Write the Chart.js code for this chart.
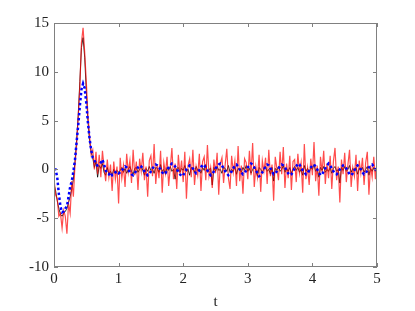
<!DOCTYPE html>
<html>
<head>
<meta charset="utf-8">
<script src="https://cdn.jsdelivr.net/npm/chart.js@4.4.1/dist/chart.umd.min.js"></script>
<style>
  html, body { margin: 0; padding: 0; background: #fff; }
  #wrap { width: 415px; height: 311px; }
</style>
</head>
<body>
<div id="wrap"><canvas id="chart" width="415" height="311"></canvas></div>
<script>
// sample step in t
const dt = 0.025;

const xTicks = [0, 1, 2, 3, 4, 5];
const yTicks = [-10, -5, 0, 5, 10, 15];

// noisy measured signal (red)
const redValues = [
  -1.0, -2.6, -3.0, -4.8, -4.5, -6.0, -4.2, -4.8, -6.6, -3.5,
  -4.5, -1.2, -2.8, 0.5, 2.5, 5.5, 8.5, 13.0, 14.5, 12.0,
  9.0, 5.5, 3.5, 1.5, 2.0, 0.0, 1.8, -0.5, 1.5, -0.8,
  1.9, 0.2, -1.2, 1.0, -0.8, 0.5, -2.2, 0.8, -1.0, 0.3,
  -3.5, 1.2, -0.9, 0.4, -1.8, 1.6, -0.3, 0.9, -1.4, 2.0,
  -0.6, 0.8, -2.1, 1.1, -0.2, 1.7, -1.1, 0.3, -2.8, 0.9,
  1.4, -0.7, 2.6, -1.5, 0.5, -0.9, 1.9, -2.4, 0.7, -0.4,
  1.3, -1.7, 0.2, 2.2, -1.0, 0.6, -2.0, 1.5, -0.5, 0.9,
  -1.3, 1.8, -3.0, 0.4, 1.1, -0.8, 2.0, -1.6, 0.3, -0.6,
  1.6, -2.2, 0.8, 1.3, -1.1, 2.5, -0.7, 0.2, -1.9, 1.0,
  -0.4, 1.7, -2.6, 0.6, 1.2, -1.4, 0.5, 2.1, -0.9, -2.0,
  1.4, -0.3, 0.9, -1.7, 2.4, -1.2, 0.4, -2.5, 1.1, 0.7,
  -1.0, 1.9, -0.6, 2.7, -1.8, 0.3, -0.8, 1.5, -2.3, 0.9,
  -0.2, 1.2, -1.5, 2.0, -0.7, 0.5, -3.2, 1.3, 0.1, -1.1,
  1.8, -0.5, 2.3, -1.9, 0.6, -0.9, 1.4, -2.1, 0.8, 1.0,
  -1.3, 1.6, -0.4, 0.7, -2.4, 2.6, -1.0, 0.2, -1.6, 1.1,
  -0.6, 2.8, -1.2, 0.4, -2.7, 1.3, -0.3, 1.9, -1.5, 0.6,
  -0.9, 1.4, -2.0, 0.8, 2.2, -1.1, 0.3, -3.4, 1.0, -0.5,
  1.7, -1.3, 0.5, 2.0, -1.8, 0.2, -0.7, 1.5, -2.2, 0.9,
  -0.4, 1.2, -1.6, 0.7, 1.8, -2.6, 0.4, -0.8, 1.3, -1.0,
  0.6
];

// reference signal (black)
const blackValues = [
  -1.5, -2.2, -3.2, -4.0, -4.6, -4.8, -4.5, -4.3, -4.0, -3.4,
  -2.8, -2.0, -1.0, 0.8, 3.0, 5.5, 9.0, 12.5, 13.5, 11.5,
  8.0, 5.0, 3.0, 1.8, 1.2, 0.2, 0.8, -0.8, 0.4, 0.1,
  0.6, -0.3, -0.6, 0.2, -0.5, -0.2, -0.6, 0.0, -0.4, -0.1,
  -0.3, -0.1, 0.2, -0.3, 0.1, -0.4, 0.0, 0.3, -0.2, -0.5,
  0.1, 0.2, -0.3, 0.0, 0.4, -0.1, -0.6, 0.1, -0.2, 0.3,
  -0.1, 0.0, -0.4, 0.2, 0.1, -0.3, 0.5, -0.2, 0.0, -0.5,
  0.2, -0.1, 0.3, -0.2, 0.0, -1.0, 0.1, 0.2, -0.3, 0.1,
  -0.1, 0.4, -0.2, 0.0, -0.6, 0.2, 0.1, -0.3, 0.3, -0.1,
  0.0, -0.4, 0.2, -0.1, 0.5, -0.3, 0.0, 0.1, -1.6, 0.2,
  -0.2, 0.3, -0.1, 0.0, -0.4, 0.2, 0.1, -0.2, 0.4, -0.3,
  0.0, -0.2, 0.3, -0.5, 0.1, 0.0, -0.3, 0.2, -0.1, 0.4,
  -0.2, 0.1, -0.4, 0.0, 0.3, -0.1, -0.7, 0.2, 0.0, -0.3,
  0.1, 0.3, -0.2, 0.0, -0.5, 0.2, -1.2, 0.1, -0.1, 0.3,
  -0.2, 0.0, 0.4, -0.3, 0.1, -0.2, 0.2, -0.4, 0.0, 0.3,
  -0.1, 0.2, -0.3, 0.0, -0.6, 0.4, -0.2, 0.1, -0.3, 0.2,
  0.0, 0.5, -0.2, 0.1, -0.8, 0.2, -0.1, 0.3, -0.3, 0.0,
  -0.2, 0.2, -0.4, 0.1, 0.3, -0.2, 0.0, -1.4, 0.2, -0.1,
  0.3, -0.2, 0.0, 0.4, -0.3, 0.1, -0.1, 0.2, -0.5, 0.1,
  -0.1, 0.2, -0.3, 0.0, 0.3, -0.6, 0.1, -0.2, 0.2, -0.2,
  0.0
];

// smoothed estimate (blue dotted)
const blueValues = [
  0.0, 0.0, -0.8, -2.5, -3.8, -4.4, -4.3, -4.0, -3.8, -2.8,
  -1.8, -1.2, -0.2, 1.0, 2.8, 4.5, 6.5, 8.2, 8.8, 8.3,
  6.8, 4.8, 3.2, 2.0, 1.2, 1.0, 0.5, 0.4, 0.5, 0.7,
  1.0, 0.5, -0.1, -0.4, -0.5, -0.3, -0.6, -0.5, -0.3, -0.2,
  -0.4, -0.3, -0.1, 0.1, 0.3, 0.2, 0.0, -0.3, -0.5, -0.6,
  -0.4, -0.1, 0.2, 0.4, 0.3, 0.1, -0.2, -0.4, -0.6, -0.5,
  -0.2, 0.1, 0.3, 0.5, 0.4, 0.2, 0.0, -0.3, -0.5, -0.4,
  -0.1, 0.2, 0.4, 0.6, 0.5, 0.3, 0.0, -0.2, -0.5, -0.7,
  -0.6, -0.3, 0.0, 0.2, 0.4, 0.3, 0.1, -0.2, -0.4, -0.3,
  -0.1, 0.2, 0.5, 0.4, 0.2, -0.1, -0.4, -0.6, -0.5, -0.2,
  0.1, 0.3, 0.5, 0.6, 0.4, 0.1, -0.2, -0.4, -0.6, -0.5,
  -0.2, 0.1, 0.4, 0.5, 0.3, 0.0, -0.3, -0.5, -0.4, -0.1,
  0.2, 0.4, 0.6, 0.5, 0.2, -0.1, -0.4, -0.7, -0.6, -0.3,
  0.0, 0.3, 0.5, 0.4, 0.1, -0.2, -0.5, -0.4, -0.2, 0.1,
  0.3, 0.5, 0.4, 0.2, -0.1, -0.4, -0.6, -0.5, -0.2, 0.1,
  0.3, 0.6, 0.5, 0.2, -0.1, -0.3, -0.5, -0.4, -0.1, 0.2,
  0.4, 0.5, 0.3, 0.0, -0.3, -0.6, -0.5, -0.2, 0.1, 0.4,
  0.6, 0.4, 0.1, -0.2, -0.4, -0.5, -0.3, 0.0, 0.2, 0.4,
  0.3, 0.1, -0.2, -0.5, -0.6, -0.4, -0.1, 0.2, 0.4, 0.3,
  0.0, -0.3, -0.5, -0.4, -0.1, 0.2, 0.4, 0.5, 0.3, 0.0,
  -0.2
];

const toPoints = vals => vals.map((v, i) => ({ x: +(i * dt).toFixed(3), y: v }));

// box around plot + inward ticks on all four sides
const boxTicks = {
    id: 'boxTicks',
    afterDraw(chart) {
        const { ctx, chartArea: a, scales } = chart;
        ctx.save();
        ctx.strokeStyle = '#808080';
        ctx.lineWidth = 1;
        ctx.strokeRect(a.left + 0.5, a.top + 0.5, a.right - a.left - 1, a.bottom - a.top - 1);
        ctx.beginPath();
        xTicks.forEach(v => {
            const px = Math.round(scales.x.getPixelForValue(v)) + 0.5;
            ctx.moveTo(px, a.bottom); ctx.lineTo(px, a.bottom - 4);
            ctx.moveTo(px, a.top); ctx.lineTo(px, a.top + 4);
        });
        yTicks.forEach(v => {
            const py = Math.round(scales.y.getPixelForValue(v)) + 0.5;
            ctx.moveTo(a.left, py); ctx.lineTo(a.left + 4, py);
            ctx.moveTo(a.right, py); ctx.lineTo(a.right - 4, py);
        });
        ctx.stroke();
        ctx.restore();
    }
};

const font = { family: '"Liberation Serif", "Times New Roman", serif', size: 15 };

new Chart(document.getElementById('chart'), {
    type: 'line',
    data: {
        datasets: [
            {
                label: 'estimate',
                data: toPoints(blueValues),
                borderColor: '#0000ff',
                borderWidth: 2.5,
                borderDash: [2.5, 2.5],
                pointRadius: 0,
                tension: 0
            },
            {
                label: 'noisy',
                data: toPoints(redValues),
                borderColor: 'rgba(255,0,0,0.7)',
                borderWidth: 1.2,
                pointRadius: 0,
                tension: 0
            },
            {
                label: 'true',
                data: toPoints(blackValues),
                borderColor: '#000',
                borderWidth: 0.8,
                pointRadius: 0,
                tension: 0
            }
        ]
    },
    options: {
        responsive: false,
        animation: false,
        layout: { padding: { top: 23, right: 38, left: 0, bottom: 0 } },
        plugins: {
            legend: { display: false },
            tooltip: { enabled: false }
        },
        scales: {
            x: {
                type: 'linear',
                min: 0, max: 5,
                afterFit: s => { s.height = 44; },
                afterBuildTicks: s => { s.ticks = xTicks.map(v => ({ value: v })); },
                ticks: { color: '#222', font, padding: 3 },
                grid: { display: false, drawTicks: false },
                border: { display: false },
                title: { display: true, text: 't', color: '#222', font, padding: { top: 4, bottom: 0 } }
            },
            y: {
                type: 'linear',
                min: -10, max: 15,
                afterFit: s => { s.width = 54; },
                afterBuildTicks: s => { s.ticks = yTicks.map(v => ({ value: v })); },
                ticks: { color: '#222', font, padding: 5 },
                grid: { display: false, drawTicks: false },
                border: { display: false }
            }
        }
    },
    plugins: [boxTicks]
});
</script>
</body>
</html>
